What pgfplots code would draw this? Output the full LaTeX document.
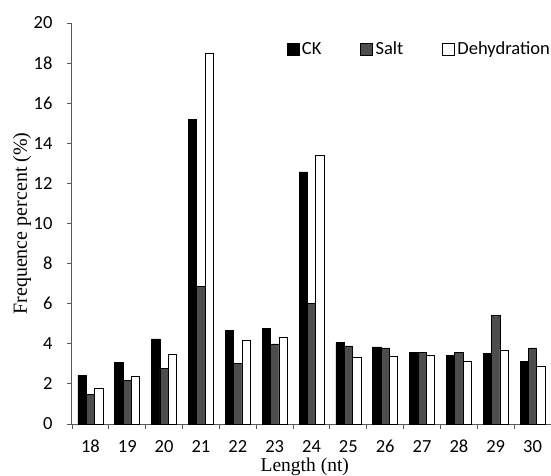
\documentclass[border=0pt]{standalone}
\usepackage{fontspec}
\setmainfont{Liberation Serif}
\newfontfamily\calibri{Carlito}
\usepackage{pgfplots}
\pgfplotsset{compat=1.18}
\definecolor{saltgray}{HTML}{4D4D4D}
\definecolor{axgray}{HTML}{5A5A5A}
\begin{document}
\begin{tikzpicture}
\begin{axis}[
  scale only axis, width=479pt, height=401pt,
  xmin=-0.5, xmax=12.5, ymin=0, ymax=20,
  axis lines*=left,
  axis line style={draw=axgray, line width=1pt},
  ybar=0pt, bar width=8.33pt,
  xtick={-0.5,0.5,...,12.5},
  x tick label as interval,
  xticklabels={18,19,20,21,22,23,24,25,26,27,28,29,30},
  ytick={0,2,...,20},
  tick align=outside, major tick length=5pt,
  tick style={draw=axgray, line width=0.9pt},
  /pgf/number format/assume math mode=true,
  ticklabel style={font=\calibri\fontsize{18.5}{20}\selectfont},
  xticklabel style={inner sep=0pt, yshift=-11pt},
  yticklabel style={xshift=-11pt},
  xlabel={Length (nt)}, ylabel={Frequence percent (\%)},
  every axis x label/.style={at={(axis description cs:0.486,0)}, anchor=base, yshift=-47.5pt,
    inner sep=0pt, font=\fontsize{19.5}{21}\selectfont},
  every axis y label/.style={at={(axis description cs:-0.1044,0.5)}, rotate=90, anchor=center,
    font=\fontsize{20}{22}\selectfont},
  legend columns=-1,
  legend style={draw=none, fill=none, inner sep=0pt, at={(axis description cs:1.0,0.935)}, anchor=east,
    font=\calibri\fontsize{18.5}{20}\selectfont,
    nodes={inner sep=1pt},
    /tikz/every even column/.append style={column sep=38pt},
    /tikz/every odd column/.append style={column sep=1.5pt}},
  legend image code/.code={\draw[#1, draw=black, line width=0.6pt] (0pt,-6pt) rectangle (12pt,6pt);},
]
\addplot[fill=black, draw=black, line width=0.6pt] coordinates {
(0,2.44) (1,3.07) (2,4.24) (3,15.2) (4,4.68) (5,4.78) (6,12.57) (7,4.05) (8,3.85) (9,3.57) (10,3.42) (11,3.52) (12,3.12)};
\addplot[fill=saltgray, draw=black, line width=0.6pt] coordinates {
(0,1.48) (1,2.16) (2,2.79) (3,6.88) (4,3.04) (5,3.99) (6,6.0) (7,3.9) (8,3.8) (9,3.57) (10,3.57) (11,5.42) (12,3.8)};
\addplot[fill=white, draw=black, line width=0.6pt] coordinates {
(0,1.76) (1,2.38) (2,3.5) (3,18.5) (4,4.15) (5,4.34) (6,13.39) (7,3.32) (8,3.36) (9,3.41) (10,3.12) (11,3.7) (12,2.87)};
\legend{CK,Salt,Dehydration}
\end{axis}
\pgfresetboundingbox
\useasboundingbox (-72pt,-52pt) rectangle (479pt,424pt);
\end{tikzpicture}
\end{document}
